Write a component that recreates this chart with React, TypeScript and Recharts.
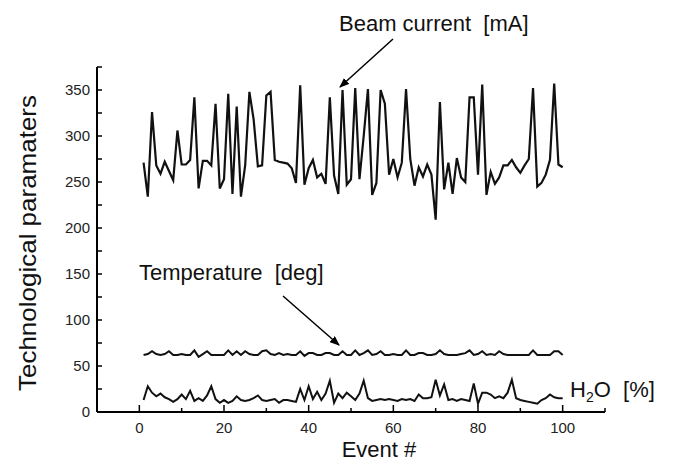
import React from "react"
import { LineChart, Line, XAxis, YAxis } from "recharts"

const beamCurrent = [
  271, 234, 326, 268, 259, 272, 262, 252, 306, 269,
  269, 274, 342, 243, 273, 273, 268, 335, 243, 253,
  346, 237, 332, 234, 268, 348, 318, 267, 268, 344,
  348, 274, 272, 271, 270, 265, 249, 355, 247, 265,
  274, 255, 259, 248, 342, 257, 237, 350, 247, 253,
  352, 253, 300, 351, 236, 249, 350, 335, 258, 275,
  255, 271, 351, 275, 246, 266, 256, 269, 258, 209,
  337, 242, 271, 237, 276, 255, 250, 342, 342, 258,
  356, 236, 261, 248, 255, 268, 268, 274, 266, 260,
  268, 275, 352, 245, 249, 258, 274, 357, 269, 266,
]

const temperature = [
  62, 63, 66, 63, 62, 63, 66, 62, 62, 63,
  62, 62, 67, 60, 63, 66, 62, 62, 62, 62,
  67, 62, 66, 62, 66, 63, 62, 62, 66, 67,
  63, 62, 64, 62, 63, 62, 62, 66, 61, 64,
  64, 62, 62, 64, 64, 62, 62, 66, 62, 62,
  67, 62, 64, 67, 62, 63, 66, 62, 62, 63,
  62, 62, 67, 62, 62, 64, 64, 62, 62, 63,
  67, 63, 62, 62, 62, 63, 64, 67, 62, 63,
  66, 62, 63, 62, 66, 63, 62, 62, 62, 62,
  62, 62, 67, 62, 62, 62, 62, 66, 66, 62,
]

const water = [
  13, 28, 21, 17, 20, 16, 14, 11, 14, 19,
  14, 23, 12, 15, 12, 18, 28, 14, 10, 13,
  10, 12, 17, 13, 12, 13, 15, 18, 13, 12,
  13, 14, 10, 13, 13, 12, 11, 25, 13, 28,
  14, 22, 13, 20, 34, 10, 20, 15, 21, 17,
  13, 20, 34, 15, 12, 13, 14, 13, 14, 13,
  12, 14, 13, 14, 12, 19, 15, 15, 16, 35,
  18, 30, 13, 14, 12, 14, 13, 12, 31, 9,
  21, 21, 19, 15, 17, 15, 21, 35, 15, 13,
  12, 11, 10, 9, 13, 15, 19, 16, 15, 15,
]

const events = beamCurrent.map((_, i) => i + 1)

const xTicks = [0, 10, 20, 30, 40, 50, 60, 70, 80, 90, 100, 110]
const xLabels = [0, 20, 40, 60, 80, 100]
const yTicks = [0, 25, 50, 75, 100, 125, 150, 175, 200, 225, 250, 275, 300, 325, 350, 375]
const yLabels = [0, 50, 100, 150, 200, 250, 300, 350]

const data = events.map((e, i) => ({
  event: e,
  beam: beamCurrent[i],
  temp: temperature[i],
  h2o: water[i],
}))

const FONT = "'Liberation Sans', Arial, sans-serif"

const XTick = (props: any) => {
  const { x, y, payload } = props
  const major = xLabels.includes(payload.value)
  return (
    <g>
      <line x1={x} x2={x} y1={y} y2={y - (major ? 7 : 4)} stroke="#000" strokeWidth={1.5} />
      {major && (
        <text x={x} y={y + 21} textAnchor="middle" fontSize={15} fill="#222" fontFamily={FONT}>
          {payload.value}
        </text>
      )}
    </g>
  )
}

const YTick = (props: any) => {
  const { x, y, payload } = props
  const major = yLabels.includes(payload.value)
  return (
    <g>
      <line x1={x} x2={x + 5} y1={y} y2={y} stroke="#000" strokeWidth={1.5} />
      {major && (
        <text x={x - 7} y={y + 5} textAnchor="end" fontSize={15} fill="#222" fontFamily={FONT}>
          {payload.value}
        </text>
      )}
    </g>
  )
}

export default function App() {
  return (
    <div style={{ position: "absolute", left: 0, top: 0, width: 673, height: 463, background: "#fff" }}>
      <LineChart width={673} height={463} data={data} margin={{ top: 67, right: 68, left: 0, bottom: 0 }}>
        <XAxis
          dataKey="event"
          type="number"
          domain={[-10, 110]}
          ticks={xTicks}
          interval={0}
          height={51}
          tickSize={0}
          tickMargin={0}
          tick={<XTick />}
          axisLine={{ stroke: "#000", strokeWidth: 2 }}
        />
        <YAxis
          type="number"
          domain={[0, 375]}
          ticks={yTicks}
          interval={0}
          width={97}
          tickSize={0}
          tickMargin={0}
          tick={<YTick />}
          axisLine={{ stroke: "#000", strokeWidth: 2 }}
        />
        <Line dataKey="beam" type="linear" stroke="#111" strokeWidth={2.2} dot={false} isAnimationActive={false} />
        <Line dataKey="temp" type="linear" stroke="#111" strokeWidth={2} dot={false} isAnimationActive={false} />
        <Line dataKey="h2o" type="linear" stroke="#111" strokeWidth={2} dot={false} isAnimationActive={false} />
      </LineChart>
      <svg
        width={673}
        height={463}
        style={{ position: "absolute", left: 0, top: 0, pointerEvents: "none" }}
        fontFamily={FONT}
      >
        <defs>
          <marker id="arrow" markerWidth="10" markerHeight="8" refX="9" refY="4" orient="auto" markerUnits="userSpaceOnUse">
            <path d="M0,0 L10,4 L0,8 z" fill="#000" />
          </marker>
        </defs>
        <text x={339} y={31} fontSize={22} fill="#111" style={{ whiteSpace: "pre" }}>
          Beam current  [mA]
        </text>
        <line x1={393} y1={39} x2={340} y2={87} stroke="#000" strokeWidth={1.5} markerEnd="url(#arrow)" />
        <text x={139} y={280} fontSize={22} fill="#111" style={{ whiteSpace: "pre" }}>
          Temperature  [deg]
        </text>
        <line x1={283} y1={296} x2={339} y2={345} stroke="#000" strokeWidth={1.5} markerEnd="url(#arrow)" />
        <text x={570} y={397} fontSize={22} fill="#111" style={{ whiteSpace: "pre" }}>
          H<tspan fontSize={14} dy={5}>2</tspan>
          <tspan dy={-5}>O  [%]</tspan>
        </text>
        <text x={379} y={457} fontSize={22} fill="#111" textAnchor="middle">
          Event #
        </text>
        <text
          x={0}
          y={0}
          fontSize={24}
          fill="#111"
          textAnchor="middle"
          textLength={296}
          lengthAdjust="spacingAndGlyphs"
          transform="translate(36 243) rotate(-90)"
        >
          Technological paramaters
        </text>
      </svg>
    </div>
  )
}
